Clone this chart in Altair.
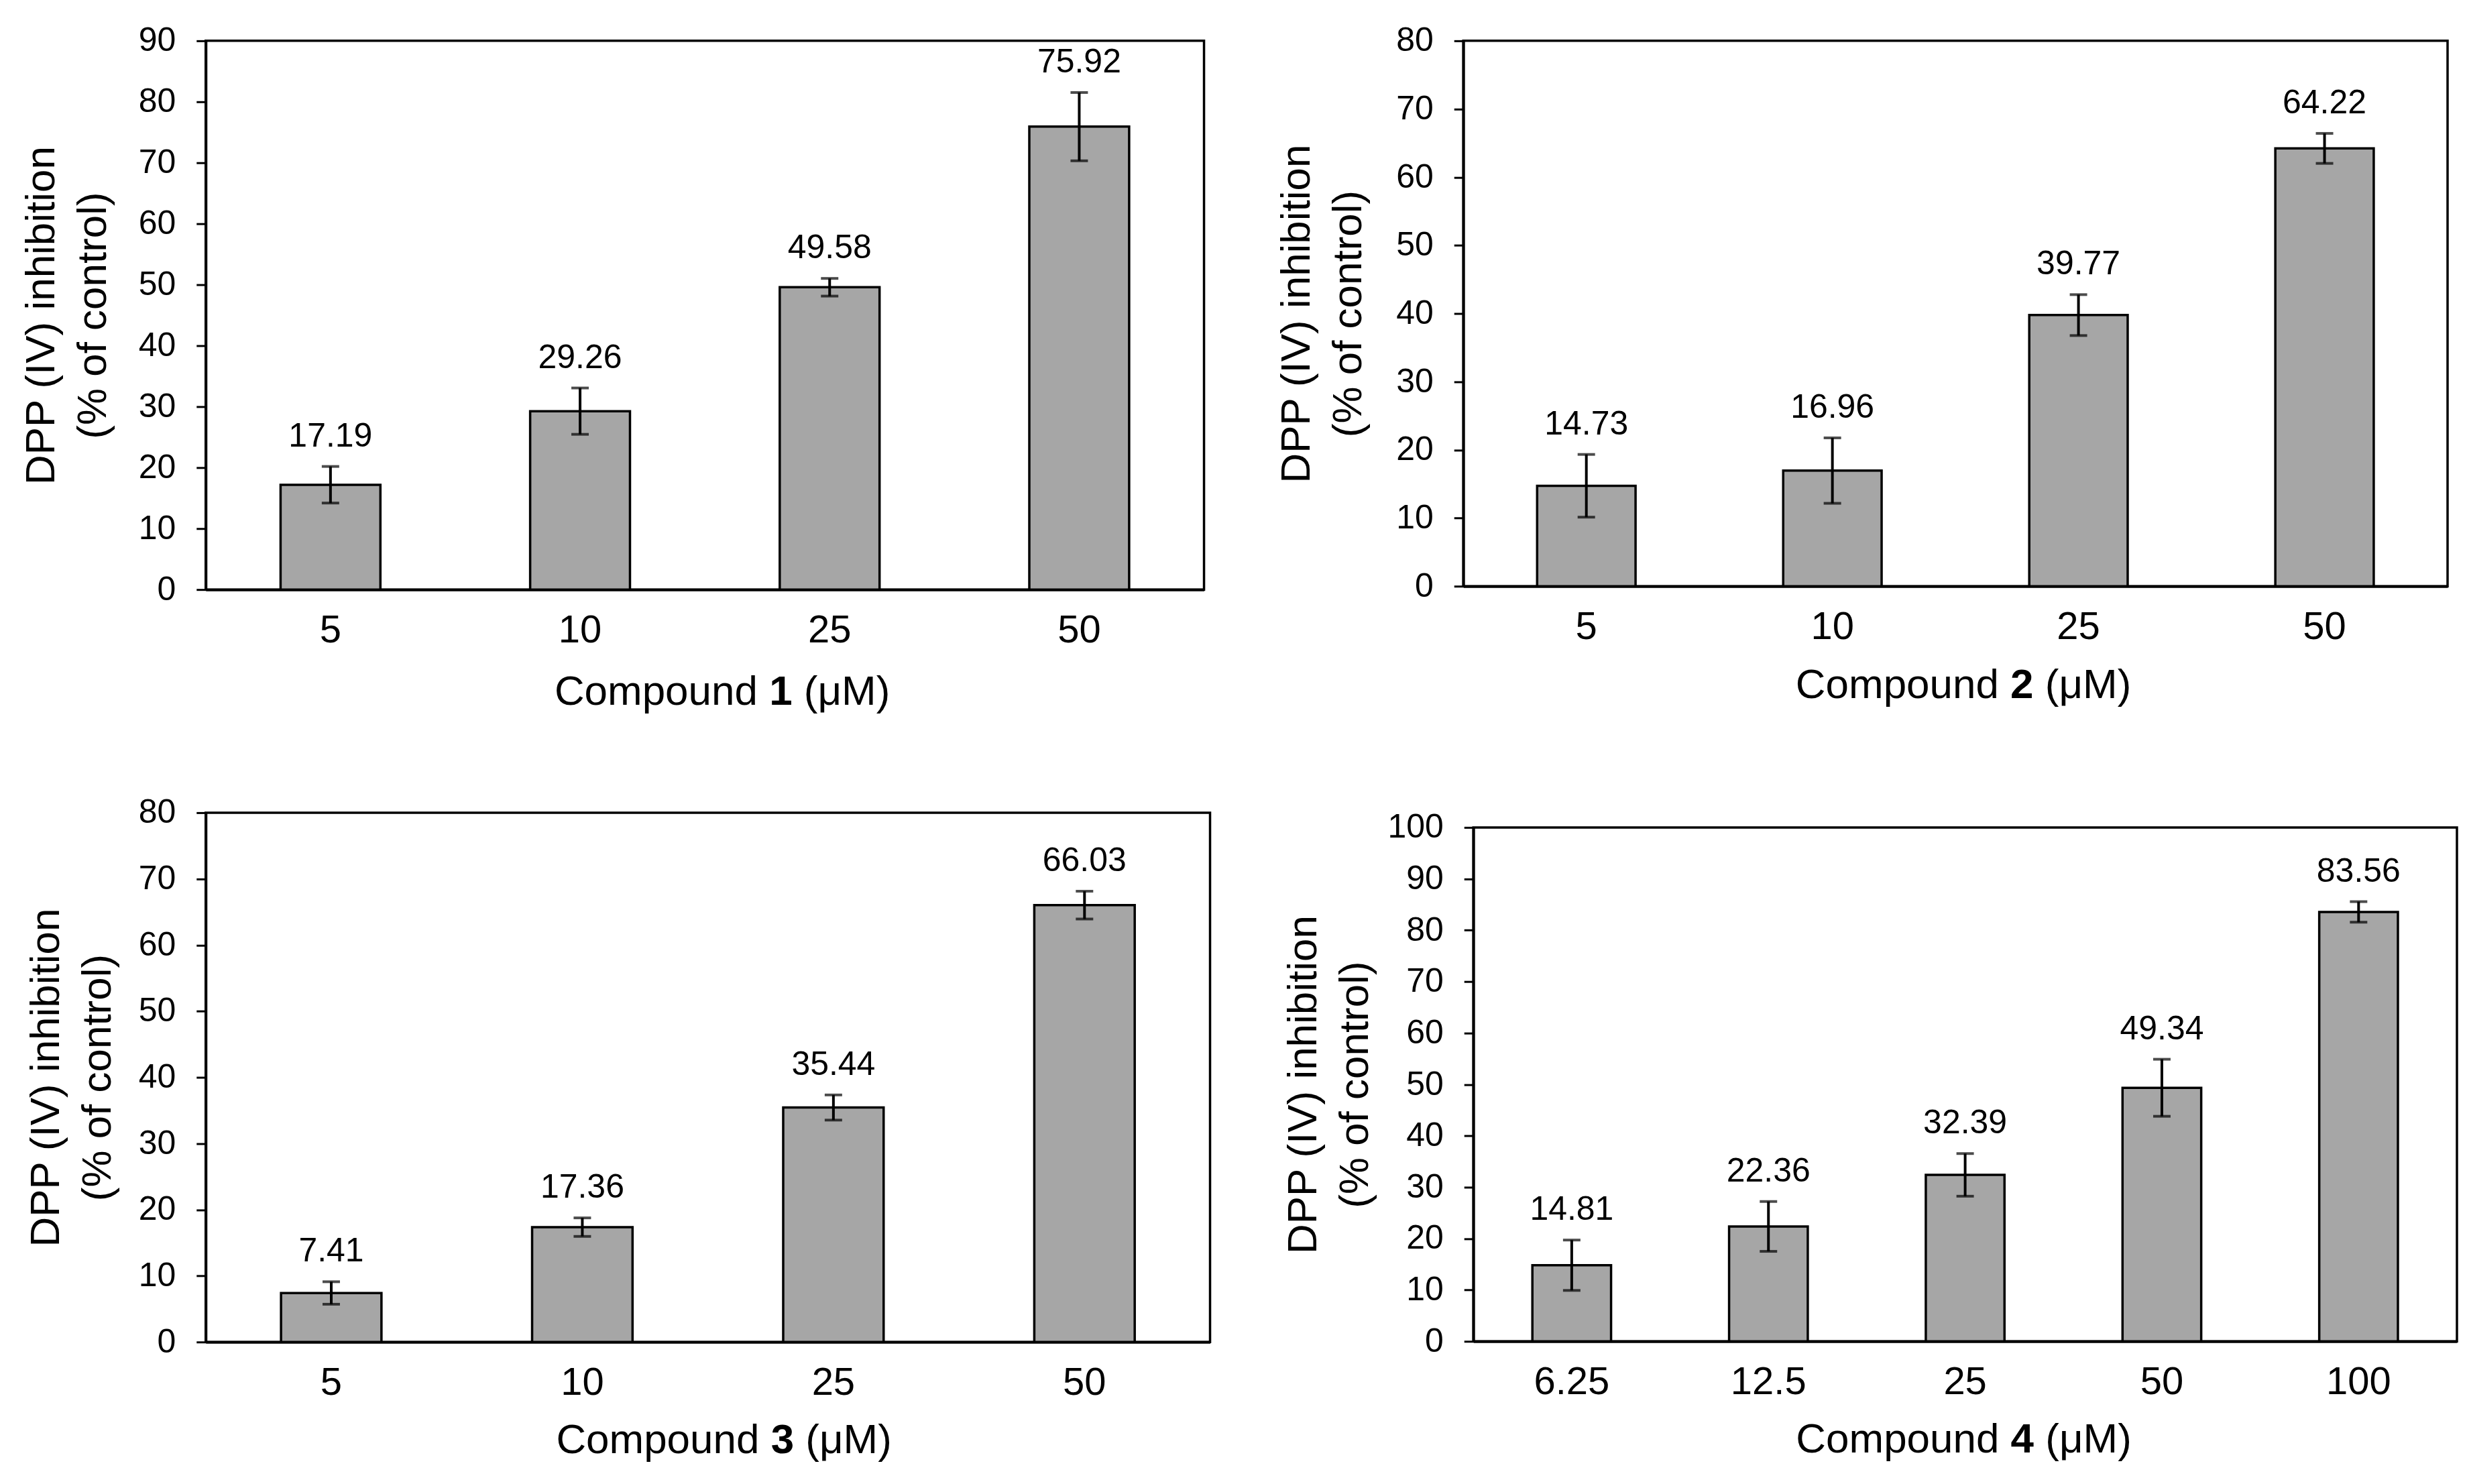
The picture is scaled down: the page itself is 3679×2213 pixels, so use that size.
import altair as alt
import pandas as pd

FONT = "Liberation Sans"

# ---- data ----
c1_doses = ["5", "10", "25", "50"]
c1_mean = [17.19, 29.26, 49.58, 75.92]
c1_err = [3.0, 3.8, 1.45, 5.6]

c2_doses = ["5", "10", "25", "50"]
c2_mean = [14.73, 16.96, 39.77, 64.22]
c2_err = [4.6, 4.8, 3.0, 2.2]

c3_doses = ["5", "10", "25", "50"]
c3_mean = [7.41, 17.36, 35.44, 66.03]
c3_err = [1.7, 1.4, 1.9, 2.1]

c4_doses = ["6.25", "12.5", "25", "50", "100"]
c4_mean = [14.81, 22.36, 32.39, 49.34, 83.56]
c4_err = [4.9, 4.85, 4.15, 5.55, 2.0]

y_title = ["DPP (IV) inhibition", "(% of control)"]

# Arial / Liberation Sans advance widths (em) for the x title pieces
ADV = {"C": .722, "o": .556, "m": .833, "p": .556, "u": .556, "n": .556, "d": .556,
       " ": .278, "(": .333, "μ": .576, "M": .833, ")": .333, "1": .556, "2": .556,
       "3": .556, "4": .556}
TF = 62


def tw(s):
    return sum(ADV[ch] for ch in s) * TF


def panel(doses, means, errs, compound, ymax, width, height, ext, tshift, tdrop):
    df = pd.DataFrame({"dose": doses, "mean": means, "err": errs})
    df["lo"] = df["mean"] - df["err"]
    df["hi"] = df["mean"] + df["err"]

    x = alt.X("dose:N", sort=doses,
              scale=alt.Scale(paddingInner=0.6, paddingOuter=0.3),
              axis=alt.Axis(title=None, labelAngle=0, ticks=False, labelFontSize=58,
                            labelPadding=32, domainWidth=4, domainColor="black",
                            labelColor="black", labelFont=FONT))
    y = alt.Y("mean:Q",
              scale=alt.Scale(domain=[0, ymax], nice=False, zero=True),
              axis=alt.Axis(values=list(range(0, ymax + 1, 10)), title=y_title,
                            titleFontSize=TF, titleFontWeight="normal", titleFont=FONT,
                            titleLineHeight=77, titleColor="black", titlePadding=0,
                            minExtent=ext, maxExtent=ext,
                            tickSize=14, tickWidth=3, tickColor="black",
                            labelFontSize=50, labelPadding=31, labelColor="black",
                            labelFont=FONT, grid=False, domainWidth=4,
                            domainColor="black"))

    base = alt.Chart(df)
    bars = base.mark_bar(color="#A6A6A6", stroke="black", strokeWidth=3.5).encode(x=x, y=y)
    rule = base.mark_rule(strokeWidth=4, color="black").encode(
        x=alt.X("dose:N", sort=doses), y="lo:Q", y2="hi:Q")
    tlo = base.mark_tick(size=26, thickness=4, color="black").encode(
        x=alt.X("dose:N", sort=doses), y="lo:Q")
    thi = base.mark_tick(size=26, thickness=4, color="black").encode(
        x=alt.X("dose:N", sort=doses), y="hi:Q")
    labels = base.mark_text(fontSize=50, font=FONT, baseline="alphabetic", dy=-30,
                            color="black").encode(
        x=alt.X("dose:N", sort=doses), y="hi:Q",
        text=alt.Text("mean:Q", format=".2f"))

    # x-axis title "Compound N (μM)" with bold N
    a = "Compound"
    b = compound
    c = "(μM)"
    total = tw(a + " " + b + " " + c)
    cx = width / 2 + tshift
    left = cx - total / 2
    one = pd.DataFrame({"k": [0]})
    ty = height + tdrop
    t1 = alt.Chart(one).mark_text(text=a, fontSize=TF, font=FONT, align="right",
                                  baseline="alphabetic", color="black").encode(
        x=alt.value(left + tw(a)), y=alt.value(ty))
    t2 = alt.Chart(one).mark_text(text=b, fontSize=TF, font=FONT, fontWeight="bold",
                                  align="left", baseline="alphabetic", color="black").encode(
        x=alt.value(left + tw(a + " ")), y=alt.value(ty))
    t3 = alt.Chart(one).mark_text(text=c, fontSize=TF, font=FONT, align="left",
                                  baseline="alphabetic", color="black").encode(
        x=alt.value(left + tw(a + " " + b + " ")), y=alt.value(ty))
    return alt.layer(bars, rule, tlo, thi, labels, t1, t2, t3).properties(
        width=width, height=height)


p1 = panel(c1_doses, c1_mean, c1_err, "1", 90, 1490, 819, 136, 26, 172)
p2 = panel(c2_doses, c2_mean, c2_err, "2", 80, 1469, 814, 140, 12, 167)
p3 = panel(c3_doses, c3_mean, c3_err, "3", 80, 1499, 790, 129, 24, 166)
p4 = panel(c4_doses, c4_mean, c4_err, "4", 100, 1468, 767, 145, -2, 166)

# tiny invisible strip that pushes panel 4 a little lower than panel 3
blank = alt.Chart(pd.DataFrame({"k": [0]})).mark_text(
    text=" ", fontSize=1, baseline="top").encode(
    x=alt.value(0), y=alt.value(0)).properties(
    width=1, height=1, view=alt.ViewBackground(stroke="transparent", strokeWidth=0))
p4cell = alt.vconcat(blank, p4, spacing=-6)

row1 = alt.hconcat(p1, p2, spacing=103)
row2 = alt.hconcat(p3, p4cell, spacing=104)

chart = alt.vconcat(row1, row2, spacing=120).properties(
    padding={"left": 21, "top": 25, "right": 5, "bottom": 5},
    background="white",
).configure(font=FONT).configure_view(stroke="black", strokeWidth=3.5)

chart.save("out.html", embed_options={"renderer": "svg", "actions": False})
